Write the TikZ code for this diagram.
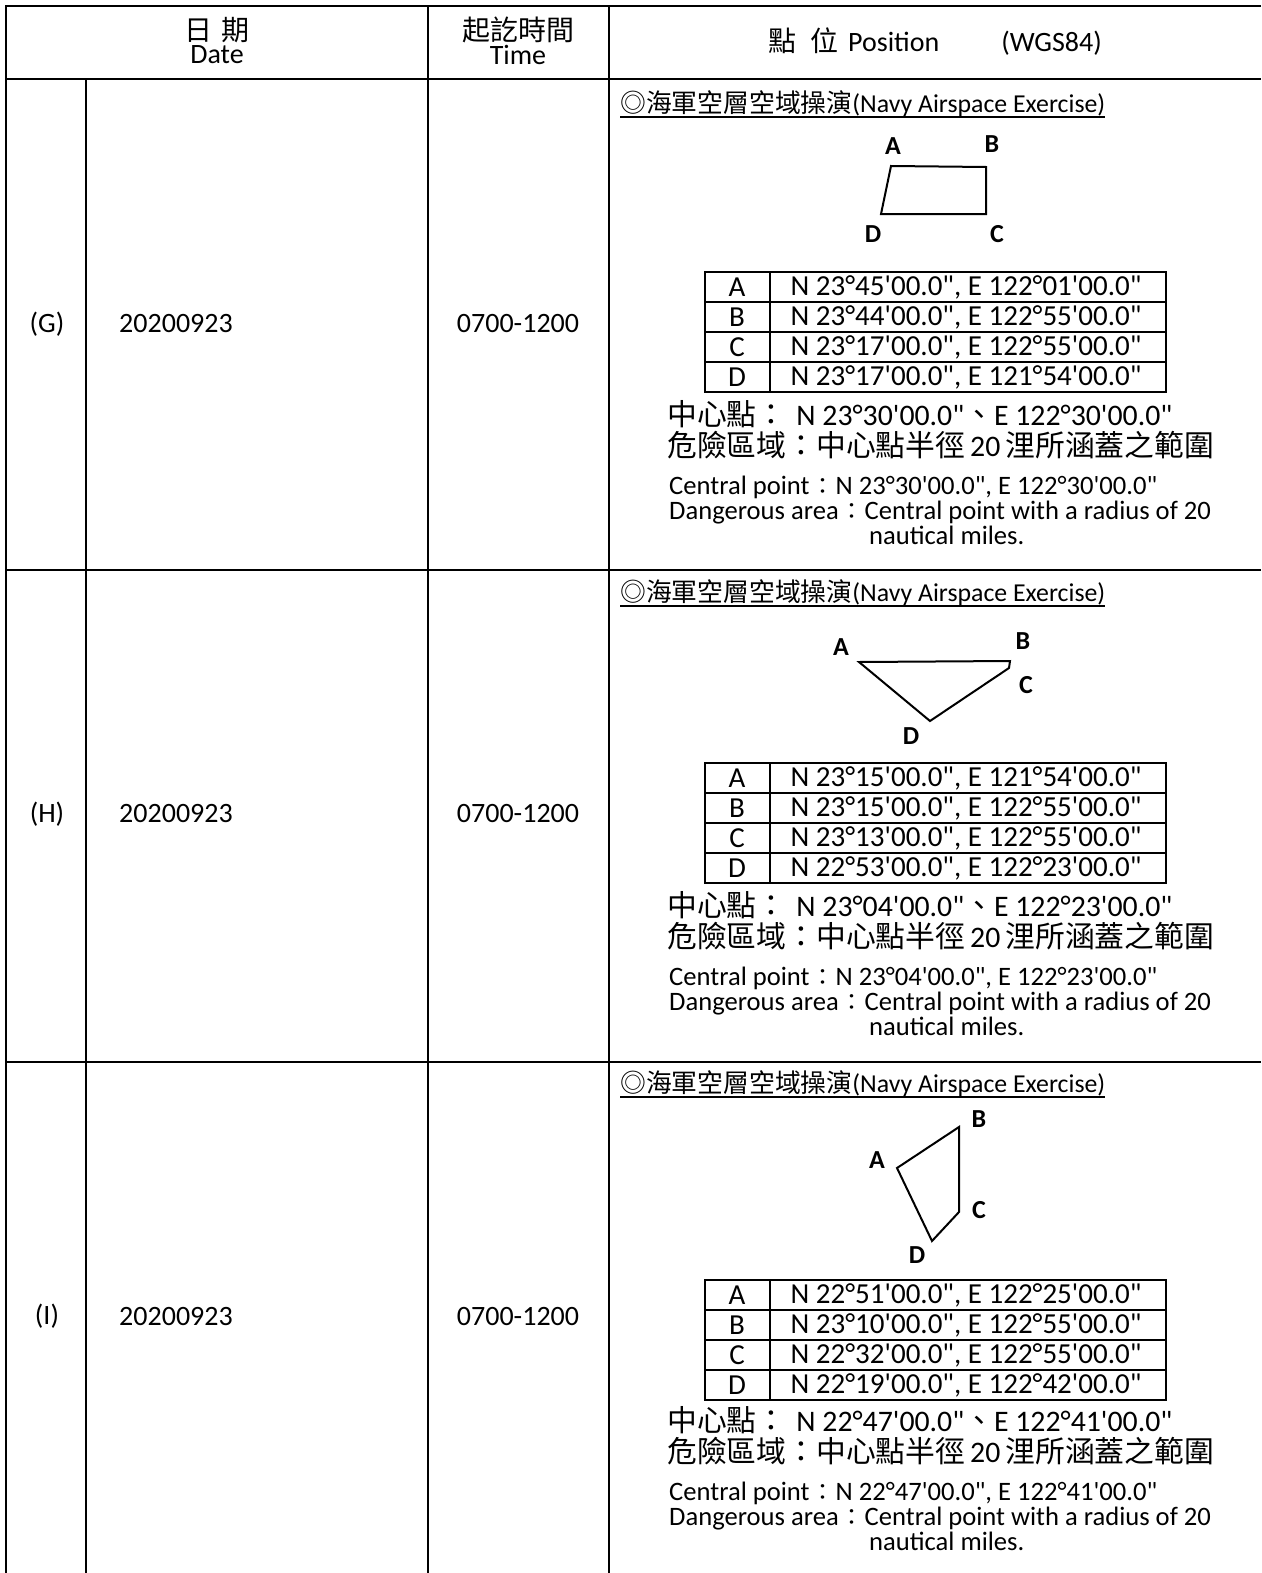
\documentclass[tikz,border=0pt]{standalone}
\usepackage{fontspec}
\setmainfont{Carlito}[Ligatures=TeXOff]
\newfontfamily\cjk{Noto Sans CJK TC}
\newcommand\fwcolon{{\cjk\fontsize{23}{24}\selectfont\hspace{1.5pt}：\hspace{1.5pt}}}
\tikzset{
  grid/.style={line width=2pt},
  thin grid/.style={line width=1.8pt},
  shapeline/.style={line width=2pt, line join=miter},
  lbl/.style={font=\fontsize{26}{28}\selectfont\bfseries, inner sep=0},
  cell/.style={font=\fontsize{28}{30}\selectfont, inner sep=0},
  coordtxt/.style={font=\fontsize{29}{30}\selectfont, inner sep=0},
  desc/.style={font=\fontsize{26.6}{25}\selectfont, inner sep=0, anchor=north west, align=left},
  zh/.style={font=\fontsize{29.8}{31}\selectfont, inner sep=0, anchor=north west, align=left},
  ttl/.style={font=\fontsize{25.8}{27}\selectfont, inner sep=0, anchor=west},
}
% coordinate table: name, top, A, B, C, D
\newcommand\ctab[6]{%
  \draw[thin grid] (705,#2) rectangle (1166,{#2+120});
  \draw[thin grid] (770,#2) -- (770,{#2+120});
  \foreach \k in {1,2,3}{\draw[thin grid] (705,{#2+30*\k}) -- (1166,{#2+30*\k});}
  \node[coordtxt] (#1lA) at (737,{#2+15}) {A};
  \node[coordtxt] (#1lB) at (737,{#2+45}) {B};
  \node[coordtxt] (#1lC) at (737,{#2+75}) {C};
  \node[coordtxt] (#1lD) at (737,{#2+105}) {D};
  \node[coordtxt] (#1tA) at (966,{#2+15}) {#3};
  \node[coordtxt] (#1tB) at (966,{#2+45}) {#4};
  \node[coordtxt] (#1tC) at (966,{#2+75}) {#5};
  \node[coordtxt] (#1tD) at (966,{#2+105}) {#6};
}
% description block: name, y of first line centre, centre coordinates
\newcommand\cdesc[4]{%
  \node[zh] (#1zh) at (667,{#2-15}) {{\cjk 中心點：}\hspace{10pt}N #3{\cjk 、}E #4\\
    {\cjk 危險區域：中心點半徑}\hspace{5pt}20\hspace{5pt}{\cjk 浬所涵蓋之範圍}};
  \node[desc] (#1en) at (669,{#2+61}) {Central point\fwcolon N #3, E #4\\
    Dangerous area\fwcolon Central point with a radius of 20\\
    \hspace*{200pt}nautical miles.};
}
% title: name, y
\newcommand\ttitle[2]{%
  \node[ttl] (#1ttl) at (620,#2) {{\cjk ◎海軍空層空域操演}(Navy Airspace Exercise)};
  \draw[line width=1.6pt] (620,{#2+13}) -- ([yshift=-13pt]#1ttl.east);
}
\begin{document}
\begin{tikzpicture}[x=1pt,y=-1pt]
\useasboundingbox (0,0) rectangle (1261,1573);
\fill[white] (0,0) rectangle (1261,1573);
% main table grid
\draw[grid] (1261,6.5) -- (6,6.5) -- (6,1573);
\foreach \yy in {79,570,1062}{\draw[grid] (6,\yy) -- (1261,\yy);}
\draw[grid] (86,79) -- (86,1573);
\draw[grid] (428,6.5) -- (428,1573);
\draw[grid] (609,6.5) -- (609,1573);
% header
\node[cell] (hdatezh) at (217,30) {\cjk 日\hspace{10pt}期};
\node[cell] (hdate) at (217,55) {Date};
\node[cell] (htimezh) at (518,30) {\cjk 起訖時間};
\node[cell] (htime) at (518,55) {Time};
\node[cell, anchor=west] (hpos) at (768,42) {{\cjk 點}\hspace{14pt}{\cjk 位}\hspace{10pt}Position\hspace{62pt}(WGS84)};
% row labels
\foreach \nm/\lab/\yy in {G/(G)/324, H/(H)/814, I/(I)/1316}{
  \node[cell] (r\nm) at (47,\yy) {\lab};
  \node[cell] (d\nm) at (176,\yy) {20200923};
  \node[cell] (t\nm) at (518,\yy) {0700-1200};
}
% ---------- G ----------
\ttitle{G}{104}
\coordinate (GA) at (891,166);
\coordinate (GB) at (986,167);
\coordinate (GC) at (986,214);
\coordinate (GD) at (881,214);
\draw[shapeline] (GA) -- (GB) -- (GC) -- (GD) -- cycle;
\node[lbl] (GlabA) at (893,146) {A};
\node[lbl] (GlabB) at (992,144) {B};
\node[lbl] (GlabC) at (997,234) {C};
\node[lbl] (GlabD) at (873,234) {D};
\ctab{G}{272}{N 23°45'00.0", E 122°01'00.0"}{N 23°44'00.0", E 122°55'00.0"}{N 23°17'00.0", E 122°55'00.0"}{N 23°17'00.0", E 121°54'00.0"}
\cdesc{G}{415}{23°30'00.0"}{122°30'00.0"}
% ---------- H ----------
\ttitle{H}{593}
\coordinate (HA) at (859,662);
\coordinate (HB) at (1010,661);
\coordinate (HC) at (1009,668);
\coordinate (HD) at (930,721);
\draw[shapeline] (HA) -- (HB) -- (HC) -- (HD) -- cycle;
\node[lbl] (HlabA) at (841,647) {A};
\node[lbl] (HlabB) at (1023,641) {B};
\node[lbl] (HlabC) at (1026,685) {C};
\node[lbl] (HlabD) at (911,736) {D};
\ctab{H}{763}{N 23°15'00.0", E 121°54'00.0"}{N 23°15'00.0", E 122°55'00.0"}{N 23°13'00.0", E 122°55'00.0"}{N 22°53'00.0", E 122°23'00.0"}
\cdesc{H}{906}{23°04'00.0"}{122°23'00.0"}
% ---------- I ----------
\ttitle{I}{1084}
\coordinate (IA) at (897,1168);
\coordinate (IB) at (959,1127);
\coordinate (IC) at (959,1212);
\coordinate (ID) at (932,1241);
\draw[shapeline] (IA) -- (IB) -- (IC) -- (ID) -- cycle;
\node[lbl] (IlabA) at (877,1160) {A};
\node[lbl] (IlabB) at (979,1119) {B};
\node[lbl] (IlabC) at (979,1210) {C};
\node[lbl] (IlabD) at (917,1255) {D};
\ctab{I}{1280}{N 22°51'00.0", E 122°25'00.0"}{N 23°10'00.0", E 122°55'00.0"}{N 22°32'00.0", E 122°55'00.0"}{N 22°19'00.0", E 122°42'00.0"}
\cdesc{I}{1421}{22°47'00.0"}{122°41'00.0"}
\end{tikzpicture}
\end{document}
